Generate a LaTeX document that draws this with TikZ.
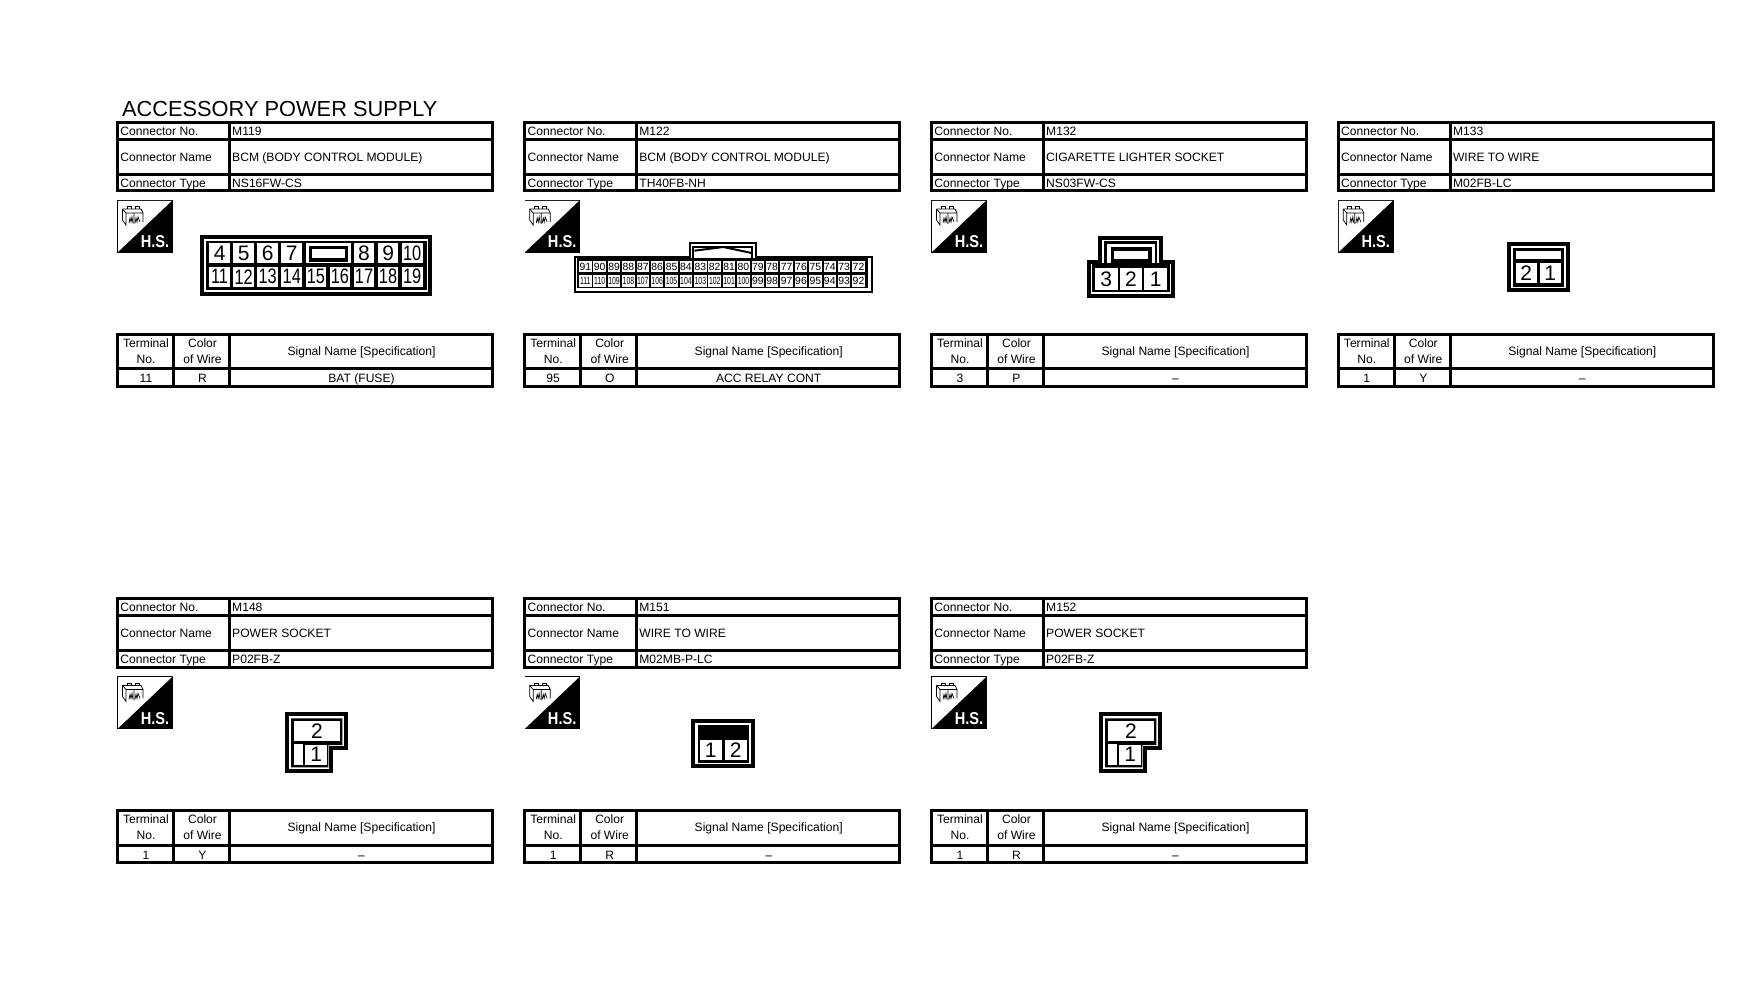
\documentclass[tikz,border=0pt]{standalone}
\usepackage{fontspec}
\setmainfont{Liberation Sans}
\usepackage{tikz}
\tikzset{
  tabline/.style={line width=1.5pt},
  shell/.style={draw,line width=2pt,fill=white},
  txt/.style={inner sep=0pt,font=\fontsize{6.05}{7.5}\selectfont},
  lefttxt/.style={txt,anchor=mid west},
  midtxt/.style={txt,anchor=mid,align=center},
  headtxt/.style={txt,anchor=center,align=center},
  cellbox/.style={fill=white,inner sep=0pt,minimum width=10.35pt,minimum height=10pt,font=\fontsize{10.5}{10.5}\selectfont},
  smallcell/.style={fill=white,inner sep=0pt,minimum width=6.25pt,minimum height=5.8pt,font=\fontsize{5.2}{5.2}\selectfont}
}
\newcommand{\narrow}[1]{\scalebox{.78}[1]{#1}}
\newcommand{\slim}[1]{\scalebox{.66}[1]{#1}}
\newcommand{\connpanel}[9]{
  \begin{scope}[shift={(#2,#3)}]
    \draw[tabline] (117.7,122.3) rectangle (492.3,190.7);
    \draw[tabline] (117.7,139.5) -- (492.3,139.5);
    \draw[tabline] (117.7,174.3) -- (492.3,174.3);
    \draw[tabline] (229.5,122.3) -- (229.5,190.7);
    \node[lefttxt] (#1a) at (120,130) {Connector No.};
    \node[lefttxt] (#1b) at (120,156) {Connector Name};
    \node[lefttxt] (#1c) at (120,182.2) {Connector Type};
    \node[lefttxt] (#1d) at (231.8,130) {#4};
    \node[lefttxt] (#1e) at (231.8,156) {#5};
    \node[lefttxt] (#1f) at (231.8,182.2) {#6};
    \fill (117.3,200) -- (172.7,200) -- (172.7,252.7) -- (117.3,252.7) -- cycle;
    \fill[white] (118,200.8) -- (171.8,200.8) -- (118,251.9) -- cycle;
    \node[inner sep=0pt,text=white,font=\fontsize{8.6}{8.6}\bfseries\selectfont] (#1g) at (155,242) {\scalebox{.85}[1]{H.S.}};
    \draw[line width=.35pt] (122.5,209) -- (141,209) -- (143,213) -- (143,222);
    \draw[line width=.35pt] (122.5,209) -- (122.5,220) -- (126,225) -- (126,213) -- (143,213);
    \draw[line width=.35pt] (122.5,209) -- (126,213) (134,213) -- (134,224);
    \draw[line width=.35pt] (129,223) -- (130,218) -- (131,222) -- (132,217) -- (133,223);
    \draw[line width=.35pt] (135,223) -- (136,218) -- (137,222) -- (138,217) -- (140,222);
    \draw[line width=.35pt] (127,209) -- (127,206.5) -- (131,206.5) -- (131,209);
    \draw[line width=.35pt] (135,209) -- (135,206.5) -- (139,206.5) -- (139,209);
    \draw[tabline] (117.7,334) rectangle (492.3,386);
    \draw[tabline] (117.7,368.7) -- (492.3,368.7);
    \draw[tabline] (173.3,334) -- (173.3,386);
    \draw[tabline] (229.5,334) -- (229.5,386);
    \node[headtxt] (#1h) at (146,351) {Terminal\\[.5pt]No.};
    \node[headtxt] (#1i) at (202.5,351) {Color\\[.5pt]of Wire};
    \node[midtxt] (#1j) at (361.5,350) {Signal Name [Specification]};
    \node[midtxt] (#1k) at (146,377.5) {#7};
    \node[midtxt] (#1l) at (202.5,377.5) {#8};
    \node[midtxt] (#1m) at (361.5,377.5) {#9};
  \end{scope}
}
\newcommand{\powersocket}[2]{
  \begin{scope}[shift={(#2,0)}]
    \draw[shell] (287,714) -- (346.3,714) -- (346.3,748) -- (331.3,748) -- (331.3,771.3) -- (287,771.3) -- cycle;
    \fill (291,718.3) -- (342.3,718.3) -- (342.3,745) -- (328.3,745) -- (328.3,767.3) -- (291,767.3) -- cycle;
    \node[cellbox,minimum width=23pt] (#1c2) at (317,731.3) {2};
    \fill[white] (294,744.3) rectangle (302.7,765);
    \node[cellbox,minimum width=11.2pt] (#1c1) at (316.2,754.7) {1};
  \end{scope}
}
\begin{document}
\begin{tikzpicture}[x=.5pt,y=-.5pt]
  \useasboundingbox (0,0) rectangle (1740,992);
  \node[inner sep=0pt,anchor=base west,font=\fontsize{10.9}{10.9}\selectfont] (title) at (121.7,116.7) {ACCESSORY POWER SUPPLY};
  \connpanel{ma}{0}{0}{M119}{BCM (BODY CONTROL MODULE)}{NS16FW-CS}{11}{R}{BAT (FUSE)}
  \connpanel{mb}{407.2}{0}{M122}{BCM (BODY CONTROL MODULE)}{TH40FB-NH}{95}{O}{ACC RELAY CONT}
  \connpanel{mc}{814}{0}{M132}{CIGARETTE LIGHTER SOCKET}{NS03FW-CS}{3}{P}{–}
  \connpanel{md}{1220.8}{0}{M133}{WIRE TO WIRE}{M02FB-LC}{1}{Y}{–}
  \connpanel{me}{0}{476.4}{M148}{POWER SOCKET}{P02FB-Z}{1}{Y}{–}
  \connpanel{mf}{407.2}{476.4}{M151}{WIRE TO WIRE}{M02MB-P-LC}{1}{R}{–}
  \connpanel{mg}{814}{476.4}{M152}{POWER SOCKET}{P02FB-Z}{1}{R}{–}

  \draw[shell] (202,237) rectangle (429.7,293.7);
  \fill (206,240.7) rectangle (427,290);
  \foreach \n/\i in {4/0,5/1,6/2,7/3,8/6,9/7}
    \node[cellbox] (mac\n) at ({219.6+24.07*\i},253.3) {\n};
  \node[cellbox] (mac10) at ({219.6+24.07*8},253.3) {\narrow{10}};
  \foreach \n in {11,...,19}
    \node[cellbox] (mac\n) at ({219.6+24.07*(\n-11)},276.7) {\narrow{\n}};
  \fill[white] (306,243.3) rectangle (350.7,263.3);
  \draw[line width=1.6pt] (310.6,247.4) rectangle (346.7,260);

  \draw[shell,line width=1pt] (575,257) -- (690.3,257) -- (690.3,242.7) -- (755.7,242.7) -- (755.7,257) -- (871.7,257) -- (871.7,291.7) -- (575,291.7) -- cycle;
  \fill (576.7,258.3) rectangle (868.3,288.3);
  \draw[line width=.9pt] (693.3,258) -- (693.3,246.7) -- (752.3,246.7) -- (752.3,258);
  \draw[line width=1pt] (694.3,250.7) -- (723.3,247) -- (751.7,253);
  \foreach \n in {91,90,...,72}
    \node[smallcell] (mbc\n) at ({585.3+14.38*(91-\n)},266.5) {\n};
  \foreach \n in {111,110,...,100}
    \node[smallcell] (mbc\n) at ({585.3+14.38*(111-\n)},280.8) {\slim{\n}};
  \foreach \n in {99,98,...,92}
    \node[smallcell] (mbc\n) at ({585.3+14.38*(111-\n)},280.8) {\n};

  \draw[shell] (1088.7,262) -- (1100.3,262) -- (1100.3,238) -- (1160.7,238) -- (1160.7,262) -- (1173,262) -- (1173,295.7) -- (1088.7,295.7) -- cycle;
  \fill (1091.7,263.3) rectangle (1170,292.3);
  \draw[line width=1.7pt] (1112.7,249) rectangle (1150,261);
  \draw[line width=1.3pt] (1105.3,264) -- (1105.3,242.7) -- (1156,242.7) -- (1156,264);
  \foreach \n/\i in {3/0,2/1,1/2}
    \node[cellbox,minimum width=11.4pt,minimum height=10.8pt] (mcc\n) at ({1106.2+24.8*\i},279.2) {\n};

  \draw[shell] (1508.5,244.3) rectangle (1568,289.7);
  \fill (1513,247.7) rectangle (1564,286.7);
  \fill[white] (1516,250.7) rectangle (1561,259.3);
  \node[cellbox,minimum height=10.3pt] (mdc2) at (1526.3,272.8) {2};
  \node[cellbox,minimum width=10.7pt,minimum height=10.3pt] (mdc1) at (1550.3,272.8) {1};

  \powersocket{me}{0}
  \powersocket{mg}{814}

  \draw[shell] (693,721.3) rectangle (753,765.7);
  \fill (698.3,725) rectangle (749,762.7);
  \foreach \n/\i in {1/0,2/1}
    \node[cellbox,minimum width=10.8pt] (mfc\n) at ({710.8+25*\i},750) {\n};
\end{tikzpicture}
\end{document}
